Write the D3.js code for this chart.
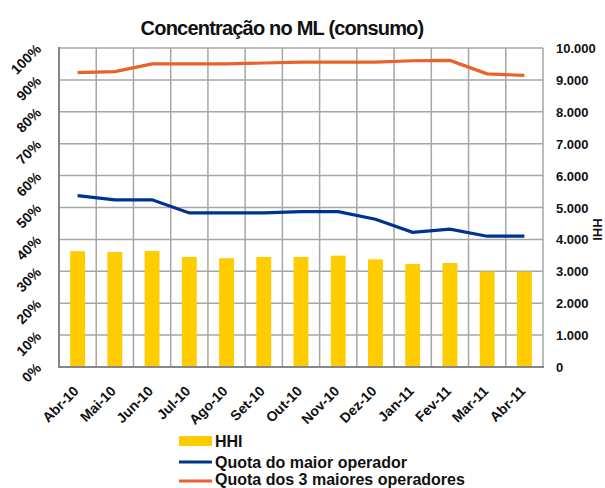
<!DOCTYPE html>
<html><head><meta charset="utf-8">
<script src="https://cdn.jsdelivr.net/npm/d3@7"></script>
<style>body{margin:0;background:#fff}svg{display:block;font-family:"Liberation Sans",Arial,sans-serif;font-weight:bold}</style>
</head><body><svg id="c" width="605" height="488"></svg>
<script>
const months = ["Abr-10","Mai-10","Jun-10","Jul-10","Ago-10","Set-10","Out-10","Nov-10","Dez-10","Jan-11","Fev-11","Mar-11","Abr-11"];
const hhi = [3630,3605,3635,3450,3410,3450,3450,3490,3375,3230,3260,2990,2990];
const quotaMaior = [0.537,0.524,0.524,0.483,0.483,0.483,0.487,0.487,0.463,0.422,0.432,0.410,0.410];
const quota3 = [0.923,0.926,0.950,0.950,0.950,0.953,0.956,0.956,0.956,0.960,0.961,0.919,0.914];
const pctTicks = [0,0.1,0.2,0.3,0.4,0.5,0.6,0.7,0.8,0.9,1];
const hhiTicks = [0,1000,2000,3000,4000,5000,6000,7000,8000,9000,10000];
const title = "Concentração no ML (consumo)";
const legendLabels = ["HHI","Quota do maior operador","Quota dos 3 maiores operadores"];

const L=59,R=543,T=48,B=367;
const svg=d3.select("#c");
const x=d3.scaleBand().domain(months).range([L,R]).padding(0);
const yP=d3.scaleLinear().domain([0,1]).range([B,T]);
const yH=d3.scaleLinear().domain([0,10000]).range([B,T]);
const grid="#a6a6a6";
svg.append("g").selectAll("line").data(pctTicks.slice(1)).join("line")
 .attr("x1",L).attr("x2",R).attr("y1",d=>yP(d)).attr("y2",d=>yP(d))
 .attr("stroke",grid).attr("stroke-width",1.5);
svg.append("g").selectAll("line").data(months.slice(1)).join("line")
 .attr("x1",d=>x(d)).attr("x2",d=>x(d)).attr("y1",T).attr("y2",B)
 .attr("stroke",grid).attr("stroke-width",1.5);
svg.append("line").attr("x1",R).attr("x2",R).attr("y1",T).attr("y2",B).attr("stroke",grid).attr("stroke-width",1.5);
const bw=x.bandwidth()*0.4;
svg.append("g").selectAll("rect").data(hhi).join("rect")
 .attr("x",(d,i)=>x(months[i])+x.bandwidth()/2-bw/2).attr("width",bw)
 .attr("y",d=>yH(d)).attr("height",d=>B-yH(d)).attr("fill","#FFCC00");
svg.append("line").attr("x1",L).attr("x2",L).attr("y1",T-1).attr("y2",B).attr("stroke","#878787").attr("stroke-width",2);
svg.append("line").attr("x1",L-1).attr("x2",R+1).attr("y1",B).attr("y2",B).attr("stroke","#878787").attr("stroke-width",2);
const cx=i=>x(months[i])+x.bandwidth()/2;
const line=d3.line().x((d,i)=>cx(i)).y(d=>yP(d));
svg.append("path").datum(quota3).attr("d",line).attr("fill","none").attr("stroke","#E8622A").attr("stroke-width",3.2);
svg.append("path").datum(quotaMaior).attr("d",line).attr("fill","none").attr("stroke","#00338D").attr("stroke-width",3.2);
svg.append("g").selectAll("text").data(pctTicks).join("text")
 .attr("transform",d=>`translate(42,${yP(d)+2}) rotate(-45)`)
 .attr("text-anchor","end").attr("font-size",14).attr("fill","#111")
 .text(d=>Math.round(d*100)+"%");
svg.append("g").selectAll("text").data(hhiTicks).join("text")
 .attr("x",556).attr("y",d=>yH(d)+5).attr("font-size",13).attr("fill","#111")
 .text(d=>d3.format(",")(d).replace(/,/g,"."));
svg.append("text").attr("transform",`translate(593,${(T+B)/2+22}) rotate(90)`).attr("text-anchor","middle")
 .attr("font-size",13).attr("fill","#111").text("HHI");
svg.append("g").selectAll("text").data(months).join("text")
 .attr("transform",(d,i)=>`translate(${cx(i)+2},${392}) rotate(-45)`)
 .attr("text-anchor","end").attr("font-size",14).attr("fill","#111").text(d=>d);
svg.append("text").attr("x",282).attr("y",35).attr("text-anchor","middle").attr("font-size",20)
 .attr("letter-spacing","-0.8px").attr("fill","#111").text(title);
const lg=svg.append("g");
lg.append("rect").attr("x",179).attr("y",436).attr("width",33).attr("height",10).attr("fill","#FFCC00");
lg.append("line").attr("x1",179).attr("x2",212).attr("y1",462).attr("y2",462).attr("stroke","#00338D").attr("stroke-width",3.2);
lg.append("line").attr("x1",179).attr("x2",212).attr("y1",481).attr("y2",481).attr("stroke","#E8622A").attr("stroke-width",3.2);
lg.selectAll("text").data(legendLabels).join("text")
 .attr("x",215).attr("y",(d,i)=>[447,468,485][i]).attr("font-size",16).attr("fill","#111").text(d=>d);
</script></body></html>
